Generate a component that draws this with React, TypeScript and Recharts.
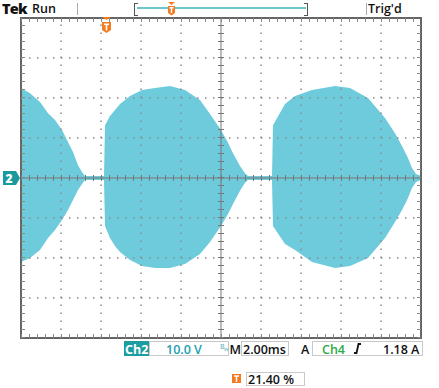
import { ComposedChart, Area, XAxis, YAxis, ReferenceLine, ReferenceArea } from "recharts"
import { CSSProperties, ReactNode } from "react"

// screen time in ms (2 ms/div, 10 div), envelope of Ch2 in volts (10 V/div)
const timeMs = [
  0, 0.45, 0.95, 1.35, 1.7, 2.05, 2.35, 2.6, 2.85, 3.05, 3.2,
  4.15, 4.2, 4.45, 4.7, 4.95, 5.45, 6.05, 6.7, 7.45, 8.2, 8.95, 9.45, 10.0, 10.35, 10.6, 10.95, 11.2, 11.35,
  12.55, 12.6, 13.2, 13.7, 14.55, 15.7, 16.45, 17.35, 18.2, 18.7, 19.05, 19.35, 19.55, 19.75, 20,
]
const upperV = [
  22.5, 21.2, 19, 16.2, 14.5, 12, 9, 6.5, 3.2, 1.5, 0.5,
  0.5, 13.2, 15.5, 17, 18.5, 20.5, 22, 22.5, 23, 22, 19.5, 16, 12, 8.8, 6.2, 3, 1.2, 0.5,
  0.5, 13.2, 18.5, 20.5, 22, 23, 22.5, 20, 15, 11.2, 8, 5, 2.5, 1, 0.5,
]
const lowerV = [
  -21, -20, -18, -15, -13, -10.5, -8, -5.5, -3, -1.5, -0.5,
  -0.5, -12, -15, -17, -18.5, -20.5, -22, -22.5, -22.5, -21.5, -19, -16, -12, -9, -6.5, -3.2, -1.2, -0.5,
  -0.5, -12, -16.5, -18, -21, -22.5, -22, -20, -15, -11, -8, -5, -2.5, -1, -0.5,
]

const xGrid = [2, 4, 6, 8, 12, 14, 16, 18]
const yGrid = [-30, -20, -10, 10, 20, 30]

const data = timeMs.map((t, i) => ({ t, band: [lowerV[i], upperV[i]] }))

const TEAL = "#6ecbdb"
const ORANGE = "#f47b20"
const FONT = "'Open Sans', 'DejaVu Sans', sans-serif"

const Txt = ({ x, y, size = 12.5, color = "#111", weight = 600, children, style }: {
  x: number, y: number, size?: number, color?: string, weight?: number, children: ReactNode, style?: CSSProperties
}) => (
  <div style={{ position: "absolute", left: x, top: y, fontSize: size, color, fontWeight: weight, lineHeight: 1.2, whiteSpace: "nowrap", ...style }}>
    {children}
  </div>
)

const Box = ({ x, y, w, h, style }: { x: number, y: number, w: number, h: number, style?: CSSProperties }) => (
  <div style={{ position: "absolute", left: x, top: y, width: w, height: h, boxSizing: "border-box", border: "1px solid #c9c9c9", ...style }} />
)

export default function App() {
  return (
    <div style={{ position: "absolute", left: 0, top: 0, width: 439, height: 388, background: "#fff", fontFamily: FONT }}>
      <ComposedChart width={439} height={388} data={data} margin={{ top: 18, right: 18, bottom: 50, left: 21 }}>
        <XAxis dataKey="t" type="number" domain={[0, 20]} hide />
        <YAxis type="number" domain={[-40, 40]} hide />
        <Area type="linear" dataKey="band" stroke="none" fill={TEAL} fillOpacity={1} isAnimationActive={false} />
        {xGrid.map((v) => (
          <ReferenceLine key={"x" + v} x={v} stroke="#8a8a8a" strokeWidth={1.5} strokeDasharray="1.5 6.5" />
        ))}
        {yGrid.map((v) => (
          <ReferenceLine key={"y" + v} y={v} stroke="#8a8a8a" strokeWidth={1.5} strokeDasharray="1.5 6.5" />
        ))}
        <ReferenceLine x={10} stroke="#777" strokeWidth={1} />
        <ReferenceLine y={0} stroke="#777" strokeWidth={1} />
        <ReferenceLine x={10} stroke="#777" strokeWidth={6} strokeDasharray="1 7" />
        <ReferenceLine y={0} stroke="#777" strokeWidth={6} strokeDasharray="1 7" />
        <ReferenceLine y={39.5} stroke="#888" strokeWidth={4} strokeDasharray="1 7" />
        <ReferenceLine y={-39.5} stroke="#888" strokeWidth={4} strokeDasharray="1 7" />
        <ReferenceLine x={0.1} stroke="#888" strokeWidth={4} strokeDasharray="1 7" />
        <ReferenceLine x={19.9} stroke="#888" strokeWidth={4} strokeDasharray="1 7" />
        <ReferenceArea x1={0} x2={20} y1={-40} y2={40} fill="none" stroke="#666" strokeWidth={2} />
      </ComposedChart>

      {/* top status bar */}
      <Txt x={2} y={0} size={14.5} weight={800} style={{ letterSpacing: -0.8 }}>Tek</Txt>
      <Txt x={32} y={1} size={12.5}>Run</Txt>
      <div style={{ position: "absolute", left: 77, top: 3, width: 1, height: 12, background: "#aaa" }} />
      <div style={{ position: "absolute", left: 134, top: 3, width: 3, height: 11, borderLeft: "1px solid #555", borderTop: "1px solid #555", borderBottom: "1px solid #555" }} />
      <div style={{ position: "absolute", left: 137, top: 7, width: 169, height: 2, background: "#6cc6cc" }} />
      <div style={{ position: "absolute", left: 304, top: 3, width: 3, height: 11, borderRight: "1px solid #555", borderTop: "1px solid #555", borderBottom: "1px solid #555" }} />
      <svg style={{ position: "absolute", left: 167, top: 2 }} width={9} height={14}>
        <polygon points="1,0 8,0 4.5,3" fill={ORANGE} />
        <polygon points="1,4 8,4 8,11 4.5,13.5 1,11" fill={ORANGE} />
        <path d="M2.5,5.8 H6.5 M4.5,5.8 V11" stroke="#fff" strokeWidth={1.4} />
      </svg>
      <div style={{ position: "absolute", left: 366, top: 3, width: 1, height: 12, background: "#aaa" }} />
      <Txt x={368} y={1} size={12.5}>Trig'd</Txt>

      {/* trigger marker on graticule */}
      <svg style={{ position: "absolute", left: 101, top: 16 }} width={11} height={18}>
        <polygon points="1,1 10,1 5.5,4" fill={ORANGE} />
        <polygon points="1,6 10,6 10,14 5.5,17 1,14" fill={ORANGE} />
        <path d="M3,8.2 H8 M5.5,8.2 V14.5" stroke="#fff" strokeWidth={1.6} />
      </svg>

      {/* channel 2 ground marker */}
      <svg style={{ position: "absolute", left: 2, top: 170 }} width={19} height={16}>
        <polygon points="1,1 14,1 18,8 14,15 1,15" fill="#1a9a9e" />
        <text x={7} y={12.5} fontSize={12} fontWeight={800} fill="#fff" textAnchor="middle" fontFamily={FONT}>2</text>
      </svg>

      {/* bottom readouts */}
      <div style={{ position: "absolute", left: 124, top: 341, width: 25, height: 15, background: "#1c9ea0" }} />
      <Txt x={125} y={341.5} size={12.5} color="#fff" weight={700}>Ch2</Txt>
      <Box x={149} y={341} w={80} h={15} />
      <Txt x={166} y={341.5} size={12.5} color="#1aa0b0" weight={600}>10.0 V</Txt>
      <Txt x={220} y={343} size={7} color="#7bbcc6" weight={600}>B</Txt>
      <Txt x={224} y={346} size={6} color="#7bbcc6" weight={600}>w</Txt>
      <Txt x={229.5} y={341.5} size={12.5} weight={600}>M</Txt>
      <Box x={241} y={341} w={48} h={15} />
      <Txt x={243} y={341.5} size={12.5} weight={600}>2.00ms</Txt>
      <Txt x={301} y={341.5} size={12.5} weight={600}>A</Txt>
      <Box x={312} y={341} w={111} h={15} />
      <Txt x={322} y={341.5} size={12.5} color="#2eaa45" weight={600}>Ch4</Txt>
      <svg style={{ position: "absolute", left: 353, top: 343 }} width={9} height={11}>
        <path d="M1,10 H3.5 L5.5,1 H8" stroke="#111" strokeWidth={1.8} fill="none" />
      </svg>
      <Txt x={383} y={341.5} size={12.5} weight={600}>1.18 A</Txt>

      <svg style={{ position: "absolute", left: 232, top: 374 }} width={9} height={9}>
        <rect x={0} y={0} width={9} height={9} fill={ORANGE} />
        <path d="M2,2 H7 M4.5,2 V8" stroke="#fff" strokeWidth={1.5} />
      </svg>
      <Box x={246} y={372} w={59} h={14} />
      <Txt x={248} y={372} size={12.5} weight={600}>21.40 %</Txt>
    </div>
  )
}
